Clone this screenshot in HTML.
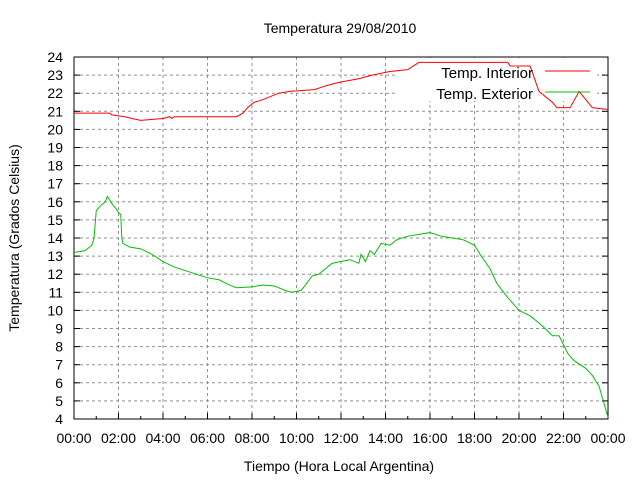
<!DOCTYPE html>
<html><head><meta charset="utf-8"><style>
html,body{margin:0;padding:0;background:#fff}
svg{display:block;font-family:"Liberation Sans",sans-serif}
</style></head><body>
<svg id="chart" width="640" height="480">
<text x="340" y="33" text-anchor="middle" font-size="14">Temperatura 29/08/2010</text>
<text x="339" y="471" text-anchor="middle" font-size="14">Tiempo (Hora Local Argentina)</text>
<text transform="translate(19,238) rotate(-90)" text-anchor="middle" font-size="14">Temperatura (Grados Celsius)</text>
</svg>
<script>
const xTickLabels=["00:00","02:00","04:00","06:00","08:00","10:00","12:00","14:00","16:00","18:00","20:00","22:00","00:00"];
const yTicks=[4,5,6,7,8,9,10,11,12,13,14,15,16,17,18,19,20,21,22,23,24];
const interiorHours=[0,1.6,1.7,2.3,2.6,3.0,4.0,4.3,4.4,4.5,7.3,7.6,7.8,8.1,8.4,8.8,9.2,9.7,10.8,11.3,11.9,12.8,13.4,14.2,15.0,15.5,19.5,19.6,20.5,20.9,21.5,21.7,22.3,22.7,23.3,24];
const interiorTemps=[20.9,20.9,20.8,20.7,20.6,20.5,20.6,20.7,20.6,20.7,20.7,20.9,21.2,21.5,21.6,21.8,22.0,22.1,22.2,22.4,22.6,22.8,23.0,23.2,23.3,23.7,23.7,23.5,23.5,22.1,21.5,21.2,21.2,22.1,21.2,21.1];
const exteriorHours=[0,0.5,0.8,0.9,1.0,1.2,1.4,1.5,1.7,1.9,2.0,2.1,2.15,2.2,2.5,3.0,3.5,4.0,4.5,5.0,5.5,6.0,6.5,7.0,7.3,8,8.5,9,9.5,9.8,10.2,10.4,10.7,11.0,11.3,11.6,12.0,12.4,12.8,12.9,13.1,13.3,13.5,13.8,14.2,14.5,15.0,15.5,16,16.5,17,17.5,18,18.3,18.7,19.0,19.5,20,20.5,21.0,21.5,21.8,22.2,22.5,23,23.3,23.6,24];
const exteriorTemps=[13.2,13.3,13.6,14.0,15.5,15.8,16.0,16.3,15.9,15.6,15.4,15.3,14.0,13.7,13.5,13.4,13.1,12.7,12.4,12.2,12.0,11.8,11.7,11.4,11.25,11.3,11.4,11.35,11.1,11.0,11.1,11.4,11.9,12.0,12.3,12.6,12.7,12.8,12.6,13.1,12.7,13.3,13.1,13.7,13.6,13.9,14.1,14.2,14.3,14.1,14.0,13.9,13.6,13.0,12.3,11.5,10.7,10.0,9.7,9.2,8.6,8.6,7.6,7.2,6.8,6.4,5.8,4.1];
const L=74,R=608,T=57,B=419;
const xs=h=>L+(R-L)*h/24, ys=v=>B-(B-T)*(v-4)/20;
const svg=document.getElementById('chart'),NS="http://www.w3.org/2000/svg";
function mk(tag,attrs){const e=document.createElementNS(NS,tag);for(const k in attrs)e.setAttribute(k,attrs[k]);svg.appendChild(e);return e;}
yTicks.forEach(v=>{const y=ys(v);
 if(v>4&&v<24){const g=mk('line',{x1:L,x2:R,y1:y,y2:y,stroke:'#909090','stroke-dasharray':'3,3'});
 
 }
 const t=mk('line',{x1:L,x2:L+6,y1:y,y2:y,stroke:'#000'});
 
 
 const t2=mk('line',{x1:R-6,x2:R,y1:y,y2:y,stroke:'#000'});
 
 
 const l=mk('text',{x:63,y:y+5,'text-anchor':'end','font-size':'14'});l.textContent=v;
 
 
});
xTickLabels.forEach((s,i)=>{const x=xs(i*2);
 if(i>0&&i<12){const g=mk('line',{x1:x,x2:x,y1:T,y2:B,stroke:'#909090','stroke-dasharray':'3,3'});
 
 }
 const t=mk('line',{x1:x,x2:x,y1:B-6,y2:B,stroke:'#000'});
 
 
 if(i<12){const m=mk('line',{x1:xs(i*2+1),x2:xs(i*2+1),y1:B-3,y2:B,stroke:'#000'});
 
 }
 const l=mk('text',{x:x,y:443,'text-anchor':'middle','font-size':'14'});l.textContent=s;
 
 
});
const lb=mk('rect',{x:397,y:58,width:200,height:43,fill:'#fff'});


const frame=mk('rect',{x:L,y:T,width:R-L,height:B-T,fill:'none',stroke:'#000'});


function series(hs,vs,color,name){const p=mk('polyline',{points:hs.map((h,i)=>xs(h)+','+ys(vs[i])).join(' '),fill:'none',stroke:color,'stroke-width':'1'});
 
 }
series(interiorHours,interiorTemps,'#ff0000','interior-line');
series(exteriorHours,exteriorTemps,'#00c000','exterior-line');
[["Temp. Interior",'#ff0000',73],["Temp. Exterior",'#00c000',94]].forEach(([s,c,y])=>{
 const t=mk('text',{x:533,y:y+5,'text-anchor':'end','font-size':'15'});t.textContent=s;
 
 
 const l=mk('line',{x1:545,x2:590,y1:y-2,y2:y-2,stroke:c});
 
 
});
</script>
</body></html>
